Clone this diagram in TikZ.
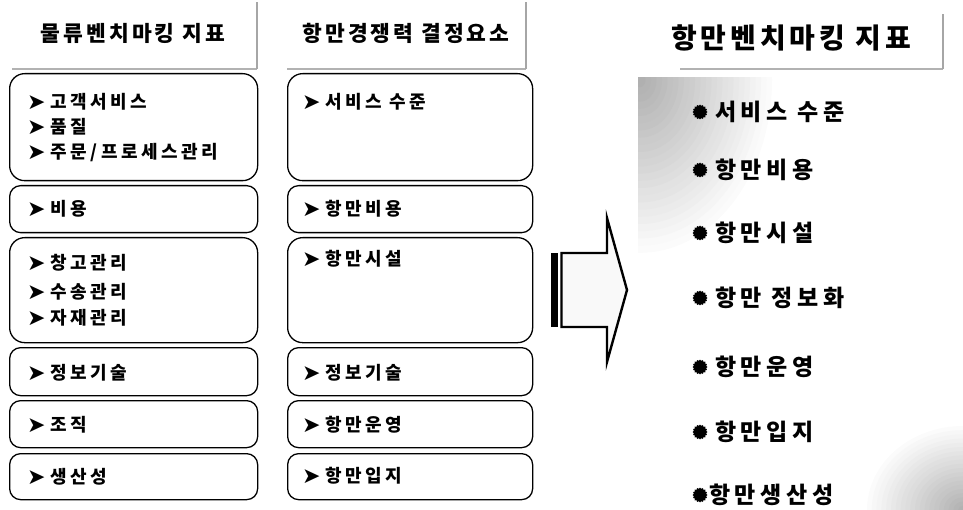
\documentclass[tikz,border=0pt]{standalone}
\usepackage{fontspec}
\newfontfamily\kr{Noto Sans CJK KR}[LetterSpace=14]
\newfontfamily\krw{Noto Sans CJK KR}[LetterSpace=20]
\newfontfamily\dv{DejaVu Sans}
\usetikzlibrary{shapes.geometric}
\newcommand\arb{\makebox[23pt][l]{\dv\fontsize{22}{22}\selectfont\raisebox{-1pt}{➤}}}
\begin{document}
\begin{tikzpicture}[x=1pt,y=-1pt,
  box/.style={draw=black, line width=1.3pt, rounded corners=11pt, inner sep=0pt, anchor=north west},
  bigbox/.style={box, rounded corners=15pt},
  item/.style={anchor=west, inner sep=0pt, font=\fontsize{18}{18}\krw\bfseries},
  head/.style={inner sep=0pt, font=\fontsize{21.5}{22}\kr\bfseries},
  bighead/.style={inner sep=0pt, font=\fontsize{28}{28}\kr\bfseries},
  litem/.style={anchor=west, inner sep=0pt, font=\fontsize{23}{23}\krw\bfseries},
  dot/.style={star, star points=16, star point ratio=1.2, fill=black, inner sep=0pt, minimum size=15pt},
  hline/.style={draw=gray!60, line width=1.3pt},
  vline/.style={draw=gray!70, line width=2.6pt}]
\useasboundingbox (0,0) rectangle (963,510);

% speckled shaded areas
\begin{scope}
  \clip (638,78) rectangle (800,260);
  \foreach \i in {24,23,...,1} {
    \pgfmathtruncatemacro\c{round(62*(1-(\i-1)/24))}
    \fill[gray!\c] (640,80) ellipse ({5.5*\i} and {7.2*\i});
  }
\end{scope}
\begin{scope}
  \clip (840,400) rectangle (963,510);
  \foreach \i in {20,19,...,1} {
    \pgfmathtruncatemacro\c{round(60*(1-(\i-1)/20))}
    \fill[gray!\c] (963,510) ellipse ({4.8*\i} and {4.2*\i});
  }
\end{scope}

% headers
\node[head] (h1) at (133,33) {물류벤치마킹 지표};
\node[head] (h2) at (406,33) {항만경쟁력 결정요소};
\node[bighead] (h3) at (791,38) {항만벤치마킹 지표};
\draw[hline] (12,69) -- (257,69);
\draw[vline] (257,69) -- (257,2);
\draw[hline] (287,69) -- (526,69);
\draw[vline] (526,69) -- (526,2);
\draw[hline] (680,69) -- (943,69);
\draw[vline] (943,69) -- (943,14);

% left column boxes
\node[bigbox, minimum width=248pt, minimum height=107pt] (L1) at (9,73) {};
\node[box, minimum width=248pt, minimum height=47pt] (L2) at (9,185) {};
\node[bigbox, minimum width=248pt, minimum height=105pt] (L3) at (9,237) {};
\node[box, minimum width=248pt, minimum height=48pt] (L4) at (9,347) {};
\node[box, minimum width=248pt, minimum height=47pt] (L5) at (9,400) {};
\node[box, minimum width=248pt, minimum height=46pt] (L6) at (9,453) {};

\node[item] (l1a) at (27,102) {\arb 고객서비스};
\node[item] (l1b) at (27,127) {\arb 품질};
\node[item] (l1c) at (27,153) {\arb 주문/프로세스관리};
\node[item] (l2) at (27,209) {\arb 비용};
\node[item] (l3a) at (27,263) {\arb 창고관리};
\node[item] (l3b) at (27,292) {\arb 수송관리};
\node[item] (l3c) at (27,318) {\arb 자재관리};
\node[item] (l4) at (27,373) {\arb 정보기술};
\node[item] (l5) at (27,425) {\arb 조직};
\node[item] (l6) at (27,477) {\arb 생산성};

% middle column boxes
\node[bigbox, minimum width=245pt, minimum height=107pt] (R1) at (287,73) {};
\node[box, minimum width=245pt, minimum height=47pt] (R2) at (287,185) {};
\node[bigbox, minimum width=245pt, minimum height=105pt] (R3) at (287,237) {};
\node[box, minimum width=245pt, minimum height=48pt] (R4) at (287,347) {};
\node[box, minimum width=245pt, minimum height=47pt] (R5) at (287,400) {};
\node[box, minimum width=245pt, minimum height=46pt] (R6) at (287,453) {};

\node[item] (r1) at (302,102) {\arb 서비스 수준};
\node[item] (r2) at (302,209) {\arb 항만비용};
\node[item] (r3) at (302,259) {\arb 항만시설};
\node[item] (r4) at (302,373) {\arb 정보기술};
\node[item] (r5) at (302,425) {\arb 항만운영};
\node[item] (r6) at (302,476) {\arb 항만입지};

% big arrow
\fill[black] (551,253) rectangle (558,327);
\draw[line width=2.4pt, fill=gray!5, line join=miter]
  (561.5,253) -- (607,253) -- (607,218) -- (627,290) -- (607,362) -- (607,327) -- (561.5,327) -- cycle;

% right list
\node[dot] (d1) at (700,112) {};
\node[litem] (t1) at (715,112) {서비스 수준};
\node[dot] (d2) at (700,170) {};
\node[litem] (t2) at (715,170) {항만비용};
\node[dot] (d3) at (700,233) {};
\node[litem] (t3) at (715,233) {항만시설};
\node[dot] (d4) at (700,298) {};
\node[litem] (t4) at (715,298) {항만 정보화};
\node[dot] (d5) at (700,367) {};
\node[litem] (t5) at (715,367) {항만운영};
\node[dot] (d6) at (700,432) {};
\node[litem] (t6) at (715,432) {항만입지};
\node[dot] (d7) at (700,495) {};
\node[litem] (t7) at (709,495) {항만생산성};
\end{tikzpicture}
\end{document}
